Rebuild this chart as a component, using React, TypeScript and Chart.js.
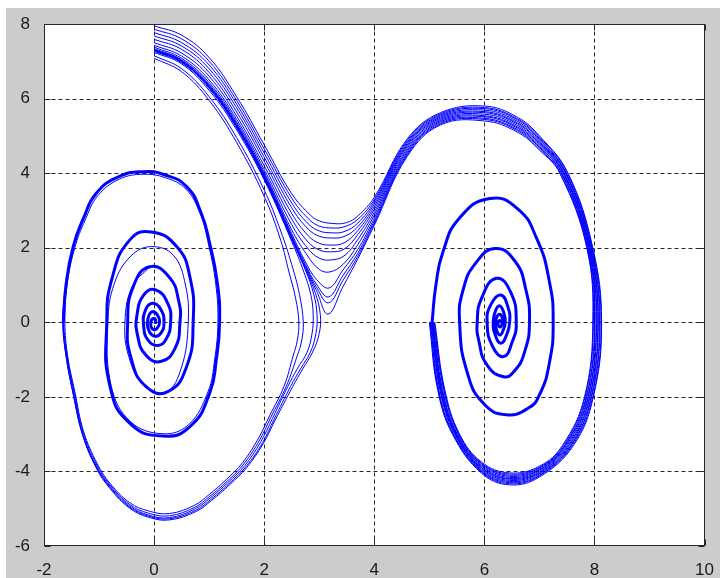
import React, { useEffect, useRef } from 'react';
import { Chart, registerables } from 'chart.js';

Chart.register(...registerables);

const W = 720;
const H = 578;

// Axis ticks
const X_TICKS = [-2, 0, 2, 4, 6, 8, 10];
const Y_TICKS = [-6, -4, -2, 0, 2, 4, 6, 8];

// Trajectories that pass over the saddle near pi and spiral into 2*pi  [theta, omega]
const passOver0 = [[0,7.95],[0.5,7.70],[1.0,7.10],[1.5,6.05],[2.0,4.76],[2.5,3.45],[2.85,2.86],[3.0,2.72],[3.24,2.65],[3.49,2.67],[3.7,2.85],[4.0,3.35],[4.6,4.92],[5.2,5.62],[6.0,5.80],[6.6,5.50],[7.0,5.00],[7.52,4.0],[7.97,2.0],[8.13,0],[7.98,-2.0],[7.62,-3.3],[7.0,-4.15],[6.46,-4.36],[5.95,-4.05],[5.42,-3.0],[5.15,-1.8],[5.0,0]];
const passOver1 = [[0,7.86],[0.5,7.60],[1.0,7.00],[1.5,5.95],[2.0,4.65],[2.5,3.33],[2.8,2.78],[3.0,2.58],[3.23,2.53],[3.45,2.56],[3.7,2.76],[4.0,3.29],[4.6,4.88],[5.2,5.59],[6.0,5.76],[6.6,5.46],[7.0,4.97],[7.51,4.0],[7.96,2.0],[8.12,0],[7.97,-2.0],[7.60,-3.3],[7.0,-4.12],[6.46,-4.33],[5.95,-4.02],[5.43,-3.0],[5.16,-1.8],[5.01,0]];
const passOver2 = [[0,7.77],[0.5,7.50],[1.0,6.90],[1.5,5.85],[2.0,4.54],[2.5,3.20],[2.8,2.64],[3.0,2.45],[3.22,2.40],[3.45,2.43],[3.7,2.66],[4.0,3.23],[4.6,4.84],[5.2,5.56],[6.0,5.73],[6.6,5.43],[7.0,4.93],[7.49,4.0],[7.95,2.0],[8.10,0],[7.95,-2.0],[7.58,-3.3],[7.0,-4.10],[6.46,-4.30],[5.95,-4.00],[5.44,-3.0],[5.17,-1.8],[5.02,0]];
const passOver3 = [[0,7.68],[0.5,7.41],[1.0,6.80],[1.5,5.75],[2.0,4.43],[2.5,3.07],[2.8,2.50],[3.0,2.31],[3.22,2.26],[3.45,2.30],[3.7,2.56],[4.0,3.17],[4.6,4.80],[5.2,5.53],[6.0,5.69],[6.6,5.39],[7.0,4.90],[7.48,4.0],[7.94,2.0],[8.09,0],[7.94,-2.0],[7.57,-3.3],[7.0,-4.07],[6.46,-4.27],[5.95,-3.97],[5.46,-3.0],[5.19,-1.8],[5.03,0]];
const passOver4 = [[0,7.59],[0.5,7.32],[1.0,6.70],[1.5,5.64],[2.0,4.32],[2.5,2.92],[2.8,2.32],[3.0,2.12],[3.21,2.07],[3.45,2.13],[3.7,2.46],[4.0,3.10],[4.6,4.76],[5.2,5.50],[6.0,5.65],[6.6,5.35],[7.0,4.86],[7.47,4.0],[7.93,2.0],[8.07,0],[7.92,-2.0],[7.55,-3.3],[7.0,-4.04],[6.46,-4.24],[5.95,-3.94],[5.47,-3.0],[5.20,-1.8],[5.04,0]];
const passOver5 = [[0,7.50],[0.5,7.22],[1.0,6.60],[1.5,5.53],[2.0,4.20],[2.5,2.77],[2.8,2.15],[3.0,1.94],[3.2,1.89],[3.45,1.96],[3.7,2.35],[4.0,3.03],[4.6,4.72],[5.2,5.47],[6.0,5.62],[6.6,5.32],[7.0,4.83],[7.45,4.0],[7.92,2.0],[8.06,0],[7.91,-2.0],[7.53,-3.3],[7.0,-4.02],[6.46,-4.21],[5.95,-3.91],[5.48,-3.0],[5.21,-1.8],[5.05,0]];
const passOver6 = [[0,7.43],[0.5,7.14],[1.0,6.50],[1.5,5.44],[2.0,4.10],[2.5,2.62],[2.8,1.97],[3.0,1.72],[3.2,1.67],[3.45,1.78],[3.7,2.22],[4.0,2.95],[4.6,4.67],[5.2,5.44],[6.0,5.58],[6.6,5.28],[7.0,4.79],[7.44,4.0],[7.91,2.0],[8.04,0],[7.89,-2.0],[7.51,-3.3],[7.0,-3.99],[6.46,-4.19],[5.95,-3.89],[5.49,-3.0],[5.22,-1.8],[5.05,0]];
const passOver7 = [[0,7.38],[0.5,7.08],[1.0,6.43],[1.5,5.37],[2.0,4.02],[2.5,2.48],[2.78,1.80],[3.0,1.42],[3.19,1.35],[3.43,1.55],[3.7,2.08],[4.0,2.87],[4.6,4.62],[5.2,5.41],[6.0,5.54],[6.6,5.24],[7.0,4.76],[7.43,4.0],[7.90,2.0],[8.03,0],[7.88,-2.0],[7.49,-3.3],[7.0,-3.96],[6.46,-4.16],[5.95,-3.86],[5.50,-3.0],[5.23,-1.8],[5.06,0]];
const passOver8 = [[0,7.34],[0.5,7.04],[1.0,6.38],[1.5,5.32],[2.0,3.97],[2.5,2.38],[2.75,1.62],[2.95,1.15],[3.18,0.92],[3.43,1.40],[3.7,1.95],[4.0,2.79],[4.6,4.57],[5.2,5.38],[6.0,5.51],[6.6,5.21],[7.0,4.72],[7.41,4.0],[7.89,2.0],[8.01,0],[7.86,-2.0],[7.47,-3.3],[7.0,-3.94],[6.46,-4.13],[5.95,-3.83],[5.51,-3.0],[5.24,-1.8],[5.07,0]];
const passOver9 = [[0,7.32],[0.5,7.02],[1.0,6.35],[1.5,5.29],[2.0,3.94],[2.5,2.32],[2.75,1.55],[2.95,1.02],[3.17,0.68],[3.43,1.25],[3.7,1.85],[4.0,2.72],[4.6,4.53],[5.2,5.35],[6.0,5.47],[6.6,5.17],[7.0,4.69],[7.40,4.0],[7.88,2.0],[8.00,0],[7.85,-2.0],[7.46,-3.3],[7.0,-3.91],[6.46,-4.10],[5.95,-3.80],[5.53,-3.0],[5.26,-1.8],[5.08,0]];
const passOver10 = [[0,7.31],[0.5,7.00],[1.0,6.33],[1.5,5.27],[2.0,3.92],[2.5,2.29],[2.75,1.50],[2.95,0.94],[3.17,0.52],[3.43,1.12],[3.7,1.77],[4.0,2.66],[4.6,4.49],[5.2,5.32],[6.0,5.44],[6.6,5.14],[7.0,4.65],[7.38,4.0],[7.87,2.0],[7.98,0],[7.83,-2.0],[7.44,-3.3],[7.0,-3.89],[6.46,-4.07],[5.95,-3.78],[5.54,-3.0],[5.27,-1.8],[5.09,0]];
const passOver11 = [[0,7.30],[0.5,6.99],[1.0,6.31],[1.5,5.25],[2.0,3.90],[2.5,2.27],[2.75,1.45],[2.95,0.85],[3.16,0.22],[3.43,0.95],[3.7,1.70],[4.0,2.60],[4.6,4.45],[5.2,5.29],[6.0,5.40],[6.6,5.10],[7.0,4.62],[7.37,4.0],[7.86,2.0],[7.97,0],[7.82,-2.0],[7.42,-3.3],[7.0,-3.86],[6.46,-4.04],[5.95,-3.75],[5.55,-3.0],[5.28,-1.8],[5.10,0]];

// Trajectories that fall back before pi and spiral into the origin
const turnBack0 = [[0,7.29],[0.5,6.98],[1.0,6.30],[1.5,5.24],[2.0,3.89],[2.5,2.25],[2.75,1.42],[2.93,0.78],[3.02,0.2],[3.0,-0.3],[2.88,-0.8],[2.7,-1.25],[2.52,-1.72],[2.2,-2.62],[1.98,-3.26],[1.68,-3.9],[1.37,-4.36],[1.05,-4.77],[0.77,-5.07],[0.28,-5.3],[-0.1,-5.23],[-0.44,-4.99],[-0.8,-4.46],[-1.05,-3.91],[-1.3,-3.02],[-1.47,-1.93],[-1.6,-0.9],[-1.66,0],[-1.61,1.0]];
const turnBack1 = [[0,7.27],[0.5,6.96],[1.0,6.27],[1.5,5.21],[2.0,3.86],[2.5,2.22],[2.75,1.4],[2.9,0.75],[2.96,0.2],[2.94,-0.3],[2.84,-0.8],[2.66,-1.25],[2.48,-1.72],[2.18,-2.6],[1.97,-3.23],[1.67,-3.87],[1.36,-4.33],[1.04,-4.74],[0.76,-5.04],[0.28,-5.27],[-0.1,-5.2],[-0.44,-4.96],[-0.8,-4.43],[-1.05,-3.88],[-1.3,-3.0],[-1.47,-1.91],[-1.6,-0.9],[-1.65,0],[-1.6,1.0]];
const turnBack2 = [[0,7.24],[0.5,6.93],[1.0,6.22],[1.5,5.16],[2.0,3.82],[2.5,2.17],[2.72,1.35],[2.85,0.72],[2.89,0.2],[2.87,-0.3],[2.78,-0.8],[2.6,-1.25],[2.43,-1.72],[2.15,-2.58],[1.94,-3.2],[1.65,-3.84],[1.34,-4.3],[1.02,-4.71],[0.75,-5.0],[0.28,-5.24],[-0.1,-5.17],[-0.44,-4.93],[-0.8,-4.4],[-1.05,-3.86],[-1.3,-2.98],[-1.46,-1.9],[-1.59,-0.9],[-1.65,0],[-1.6,1.0]];
const turnBack3 = [[0,7.15],[0.5,6.80],[1.0,6.05],[1.5,4.95],[2.0,3.55],[2.3,2.45],[2.5,1.55],[2.64,0.75],[2.71,0],[2.68,-0.5],[2.6,-0.9],[2.4,-1.72],[2.12,-2.55],[1.92,-3.15],[1.63,-3.8],[1.33,-4.26],[1.01,-4.67],[0.74,-4.96],[0.28,-5.19],[-0.1,-5.12],[-0.44,-4.89],[-0.8,-4.36],[-1.04,-3.83],[-1.29,-2.95],[-1.45,-1.88],[-1.58,-0.9],[-1.64,0],[-1.6,1.0]];
const turnBack4 = [[0,7.08],[0.5,6.72],[1.0,5.95],[1.5,4.82],[2.0,3.38],[2.3,2.2],[2.45,1.35],[2.57,0.65],[2.63,0],[2.6,-0.5],[2.53,-0.88],[2.36,-1.72],[2.1,-2.5],[1.9,-3.1],[1.61,-3.76],[1.31,-4.22],[1.0,-4.62],[0.73,-4.91],[0.28,-5.13],[-0.1,-5.06],[-0.44,-4.84],[-0.8,-4.32],[-1.03,-3.8],[-1.28,-2.93],[-1.44,-1.86],[-1.57,-0.9],[-1.62,0],[-1.58,1.0],[-1.44,2.0],[-1.25,2.75],[-1.02,3.4],[-0.63,3.84],[-0.2,3.97],[0.2,3.88],[0.58,3.57],[0.84,2.9],[0.99,2.08],[1.12,1.03],[1.16,0],[1.1,-1.0],[0.98,-1.86],[0.63,-2.74],[0.16,-2.99],[-0.43,-2.66],[-0.78,-1.7],[-0.84,0],[-0.72,1.05],[-0.42,1.78],[-0.05,2.03],[0.35,1.8],[0.57,1.0],[0.62,0],[0.5,-1.2],[0.22,-1.88],[-0.18,-1.7],[-0.46,-0.92],[-0.53,0],[-0.4,0.95],[-0.08,1.49]];

// Overlapping bundle of spirals around the origin (drawn as one thick band)
const leftSpiral = [[-1.65,0],[-1.6,1.0],[-1.47,2.03],[-1.28,2.8],[-1.05,3.46],[-0.65,3.9],[-0.2,4.04],[0.2,3.95],[0.59,3.64],[0.85,2.95],[1.01,2.12],[1.15,1.05],[1.19,0],[1.13,-1.0],[1.01,-1.9],[0.65,-2.8],[0.16,-3.05],[-0.44,-2.71],[-0.8,-1.73],[-0.86,0],[-0.76,1.2],[-0.44,2.21],[-0.05,2.42],[0.41,2.03],[0.65,1.22],[0.71,0],[0.59,-1.19],[0.25,-1.86],[-0.15,-1.72],[-0.42,-0.95],[-0.48,0],[-0.38,0.95],[-0.08,1.49],[0.28,1.2],[0.45,0.55],[0.47,0],[0.38,-0.7],[0.12,-1.05],[-0.15,-0.88],[-0.3,-0.35],[-0.31,0.2],[-0.18,0.75],[0.03,0.87],[0.25,0.5],[0.3,0],[0.22,-0.45],[0.07,-0.62],[-0.1,-0.5],[-0.19,-0.1],[-0.15,0.35],[-0.02,0.51],[0.12,0.35],[0.18,0],[0.12,-0.3],[0.0,-0.37],[-0.1,-0.2],[-0.11,0.1],[-0.04,0.28],[0.06,0.2],[0.1,0],[0.05,-0.17],[-0.03,-0.18],[-0.06,0],[0,0.1],[0.03,0],[0,0]];

// Overlapping bundle of spirals around 2*pi (drawn as one thick band)
const rightSpiral = [[5.05,0],[5.12,1.0],[5.25,1.9],[5.55,2.8],[6.1,3.32],[6.6,3.05],[6.95,2.25],[7.18,1.1],[7.25,0],[7.18,-1.1],[7.0,-1.95],[6.8,-2.3],[6.4,-2.48],[6.0,-2.2],[5.7,-1.4],[5.55,0],[5.62,0.9],[5.85,1.6],[6.2,1.98],[6.55,1.65],[6.75,0.9],[6.82,0],[6.73,-0.8],[6.55,-1.3],[6.35,-1.46],[6.05,-1.15],[5.9,-0.5],[5.87,0],[5.95,0.65],[6.22,1.18],[6.48,0.8],[6.58,0],[6.5,-0.55],[6.35,-0.92],[6.15,-0.65],[6.05,0],[6.12,0.48],[6.3,0.73],[6.43,0.4],[6.46,0],[6.4,-0.35],[6.3,-0.56],[6.2,-0.35],[6.16,0],[6.2,0.3],[6.28,0.44],[6.36,0.22],[6.38,0],[6.34,-0.22],[6.28,-0.34],[6.22,-0.2],[6.2,0],[6.24,0.18],[6.3,0.2],[6.33,0.05],[6.3,-0.12],[6.26,-0.1],[6.25,0],[6.28,0.05],[6.283,0]];

const THIN_CURVES = [
  passOver0, passOver1, passOver2, passOver3, passOver4, passOver5,
  passOver6, passOver7, passOver8, passOver9, passOver10, passOver11,
  turnBack0, turnBack1, turnBack2, turnBack3, turnBack4,
];
const THICK_CURVES = [leftSpiral, rightSpiral];

const LINE_COLOR = '#0000ff';
const AXIS_COLOR = '#262626';
const FIG_BG = '#cccccc';

const framePlugin = {
  id: 'matlabFrame',
  beforeDraw(chart: any) {
    const { ctx, chartArea: a } = chart;
    const xs = chart.scales.x;
    const ys = chart.scales.y;
    ctx.save();
    ctx.fillStyle = '#ffffff';
    ctx.fillRect(0, 0, W, H);
    ctx.fillStyle = FIG_BG;
    ctx.fillRect(6, 8, W - 6, H - 8);
    ctx.fillStyle = '#ffffff';
    ctx.fillRect(a.left, a.top, a.right - a.left, a.bottom - a.top);

    const L = Math.round(a.left) + 0.5;
    const R = Math.round(a.right) - 0.5;
    const T = Math.round(a.top) + 0.5;
    const B = Math.round(a.bottom) - 0.5;

    // dashed grid
    ctx.strokeStyle = AXIS_COLOR;
    ctx.lineWidth = 1;
    ctx.setLineDash([4, 3]);
    X_TICKS.forEach((v) => {
      if (v === X_TICKS[0] || v === X_TICKS[X_TICKS.length - 1]) return;
      const p = Math.round(xs.getPixelForValue(v)) + 0.5;
      ctx.beginPath();
      ctx.moveTo(p, T);
      ctx.lineTo(p, B);
      ctx.stroke();
    });
    Y_TICKS.forEach((v) => {
      if (v === Y_TICKS[0] || v === Y_TICKS[Y_TICKS.length - 1]) return;
      const p = Math.round(ys.getPixelForValue(v)) + 0.5;
      ctx.beginPath();
      ctx.moveTo(L, p);
      ctx.lineTo(R, p);
      ctx.stroke();
    });
    ctx.setLineDash([]);

    // inward tick marks on all sides
    const tl = 6;
    X_TICKS.forEach((v) => {
      const p = Math.round(xs.getPixelForValue(v)) + 0.5;
      ctx.beginPath();
      ctx.moveTo(p, B);
      ctx.lineTo(p, B - tl);
      ctx.moveTo(p, T);
      ctx.lineTo(p, T + tl);
      ctx.stroke();
    });
    Y_TICKS.forEach((v) => {
      const p = Math.round(ys.getPixelForValue(v)) + 0.5;
      ctx.beginPath();
      ctx.moveTo(L, p);
      ctx.lineTo(L + tl, p);
      ctx.moveTo(R, p);
      ctx.lineTo(R - tl, p);
      ctx.stroke();
    });

    // box
    ctx.strokeRect(L, T, R - L, B - T);
    ctx.restore();
  },
};

const TICK_FONT = { family: "'Liberation Sans', Arial, sans-serif", size: 17 };

export default function App() {
  const ref = useRef<HTMLCanvasElement>(null);

  useEffect(() => {
    document.body.style.margin = '0';
    const canvas = ref.current;
    if (!canvas) return;

    const toPts = (arr: number[][]) => arr.map(([x, y]) => ({ x, y }));
    const datasets: any[] = [
      ...THIN_CURVES.map((c) => ({
        data: toPts(c),
        showLine: true,
        borderColor: LINE_COLOR,
        borderWidth: 1,
        pointRadius: 0,
        tension: 0.4,
        fill: false,
      })),
      ...THICK_CURVES.map((c) => ({
        data: toPts(c),
        showLine: true,
        borderColor: LINE_COLOR,
        borderWidth: 3,
        pointRadius: 0,
        tension: 0.5,
        fill: false,
      })),
    ];

    const chart = new Chart(canvas, {
      type: 'scatter',
      data: { datasets },
      options: {
        responsive: false,
        animation: false,
        events: [],
        layout: { padding: { top: 24, right: 14, left: 0, bottom: 0 } },
        plugins: {
          legend: { display: false },
          tooltip: { enabled: false },
        },
        scales: {
          x: {
            type: 'linear',
            min: X_TICKS[0],
            max: X_TICKS[X_TICKS.length - 1],
            afterBuildTicks: (s: any) => {
              s.ticks = X_TICKS.map((v) => ({ value: v }));
            },
            afterFit: (s: any) => {
              s.height = 32;
            },
            grid: { display: false },
            border: { display: false },
            ticks: {
              font: TICK_FONT,
              color: '#1a1a1a',
              padding: 6,
              maxRotation: 0,
              autoSkip: false,
              callback: (v: any) => String(v),
            },
          },
          y: {
            type: 'linear',
            min: Y_TICKS[0],
            max: Y_TICKS[Y_TICKS.length - 1],
            afterBuildTicks: (s: any) => {
              s.ticks = Y_TICKS.map((v) => ({ value: v }));
            },
            afterFit: (s: any) => {
              s.width = 44;
            },
            grid: { display: false },
            border: { display: false },
            ticks: {
              font: TICK_FONT,
              color: '#1a1a1a',
              padding: 6,
              autoSkip: false,
              callback: (v: any) => String(v),
            },
          },
        },
      } as any,
      plugins: [framePlugin],
    });

    return () => chart.destroy();
  }, []);

  return (
    <canvas
      ref={ref}
      width={W}
      height={H}
      style={{ display: 'block', width: W, height: H }}
    />
  );
}
